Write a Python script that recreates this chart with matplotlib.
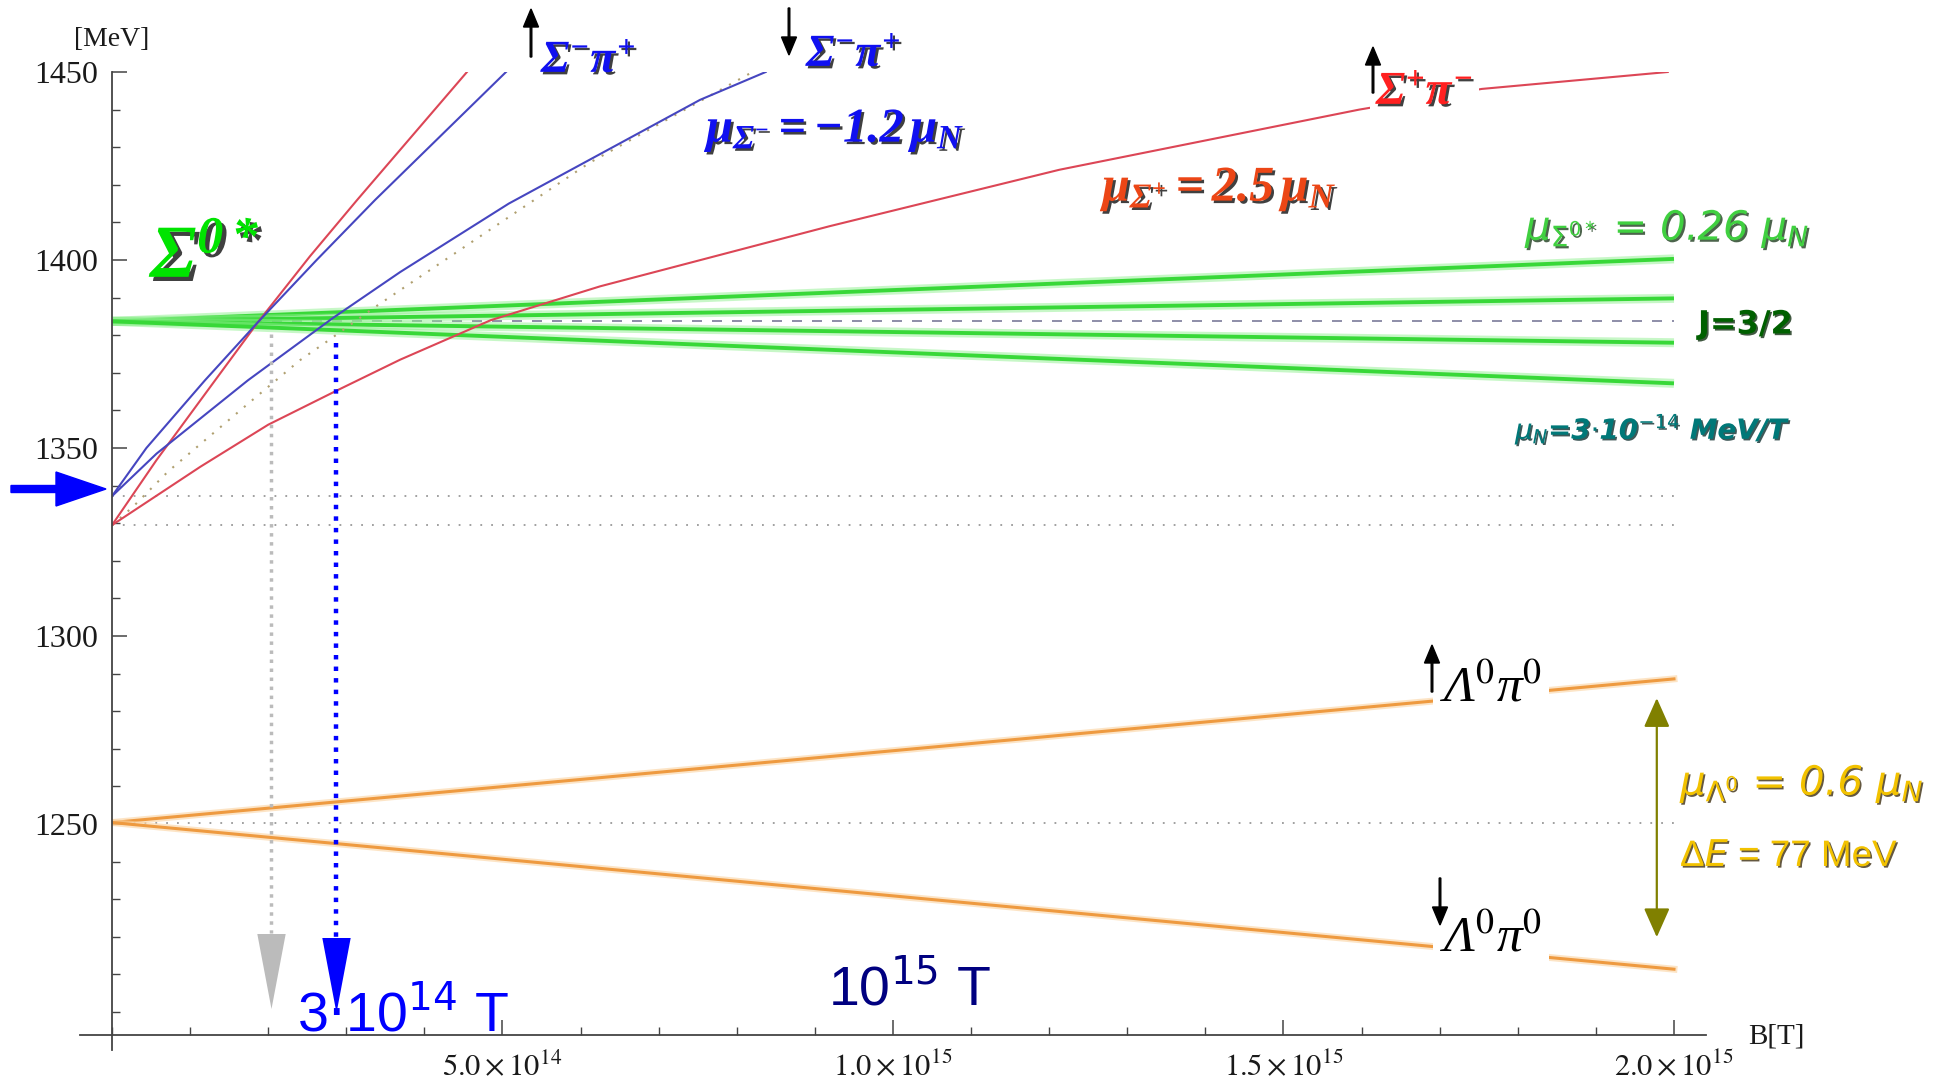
"""Zeeman-like splitting of Sigma* / pi-baryon thresholds in a huge B field"""

import matplotlib
matplotlib.use("Agg")
import matplotlib.pyplot as plt
import matplotlib.patheffects as pe
from matplotlib.patches import FancyArrow
from matplotlib.transforms import IdentityTransform
from matplotlib.ticker import FixedLocator, FixedFormatter, MultipleLocator

W, H = 1937, 1080
BU = 1e15  # B values below are in units of 1e15 T

# threshold curves (B [1e15 T], E [MeV])
red_steep_B = [0, 0.057, 0.132, 0.187, 0.2535, 0.314, 0.4545]
red_steep_E = [1329.5, 1346.8, 1368, 1383.5, 1401, 1416, 1450]
blue_steep_B = [0, 0.044, 0.119, 0.187, 0.262, 0.337, 0.5045]
blue_steep_E = [1337.2, 1350, 1368, 1383.5, 1400, 1416, 1450]
blue_flat_B = [0, 0.057, 0.174, 0.283, 0.369, 0.508, 0.753, 0.837]
blue_flat_E = [1337.2, 1348.5, 1368, 1384.6, 1396.8, 1415, 1442.6, 1450]
red_flat_B = [0, 0.113, 0.2, 0.287, 0.369, 0.485, 0.625, 0.919, 1.213, 1.597, 1.754, 1.992]
red_flat_E = [1329.5, 1345, 1356.2, 1365.2, 1373.5, 1384, 1393, 1409, 1424, 1440, 1445.5, 1450]
dotted_B = [0, 0.027, 0.072, 0.18, 0.241, 0.275, 0.339, 0.611, 0.82]
dotted_E = [1329.5, 1334.4, 1343.8, 1362.8, 1373.4, 1378.3, 1387.8, 1425.8, 1450]

# Sigma0* (J=3/2) sublevels and Lambda0 pi0 levels: start / end values
b_ends = [0, 2.0]
sigma0_E0 = 1383.7
sigma0_end = [1400.3, 1389.8, 1378.0, 1367.2]
lambda_E0 = 1250.4
lambda_end = [1288.6, 1211.4]
thresholds = [1337.2, 1329.5, 1250.4]

# vertical markers at 2e14 T and 3e14 T
mark_B = [0.203, 0.287]
mark_top = [1380.3, 1378.0]
mark_base = [1221.0, 1219.7]
mark_tip = [1200.8, 1200.0]
# olive delta-E arrow
de_B = 1.978
de_E = [1219.9, 1283.5]

y_major = [1250, 1300, 1350, 1400, 1450]
x_major = [0.5, 1.0, 1.5, 2.0]
x_labels = [r"$5.0\times10^{14}$", r"$1.0\times10^{15}$",
            r"$1.5\times10^{15}$", r"$2.0\times10^{15}$"]

plt.rcParams["font.family"] = "Liberation Serif"
plt.rcParams["mathtext.fontset"] = "stix"
plt.rcParams["mathtext.rm"] = "Liberation Serif:bold:italic"
plt.rcParams["mathtext.it"] = "Liberation Serif:bold:italic"
plt.rcParams["mathtext.bf"] = "Liberation Serif:bold:italic"

fig = plt.figure(figsize=(W / 100, H / 100), dpi=100)
ax = fig.add_axes([112 / W, 45 / H, 1594 / W, 963 / H])
ax.set_xlim(0, 2.041 * BU)
ax.set_ylim(1193.9, 1450)

for s in ["top", "right"]:
    ax.spines[s].set_visible(False)
for s in ["left", "bottom"]:
    ax.spines[s].set_color("#444444")
    ax.spines[s].set_linewidth(1.3)
ax.spines["left"].set_bounds(1189.9, 1450)
ax.spines["bottom"].set_bounds(-0.041 * BU, 2.041 * BU)

ax.yaxis.set_major_locator(FixedLocator(y_major))
ax.yaxis.set_minor_locator(MultipleLocator(10))
ax.xaxis.set_major_locator(FixedLocator([v * BU for v in x_major]))
ax.xaxis.set_major_formatter(FixedFormatter(x_labels))
ax.xaxis.set_minor_locator(MultipleLocator(0.1 * BU))
ax.tick_params(which="major", direction="in", length=11, width=1.1,
               color="#444444", labelcolor="#1a1a1a")
ax.tick_params(which="minor", direction="in", length=6, width=1.0, color="#444444")
ax.tick_params(axis="y", pad=10, labelsize=23)
ax.tick_params(axis="x", pad=12, labelsize=22)

# reference levels
for e in thresholds:
    ax.plot([0, 2.0 * BU], [e, e], ls=(0, (1, 5)), color="#999999", lw=1.3)
ax.plot([0, 2.0 * BU], [sigma0_E0, sigma0_E0], ls=(0, (6, 6)), color="#7a7a9a", lw=1.2)

# Sigma0* sublevels
for e in sigma0_end:
    ax.plot([b * BU for b in b_ends], [sigma0_E0, e], color="#90f090", lw=6.5, alpha=0.5,
            solid_capstyle="butt")
    ax.plot([b * BU for b in b_ends], [sigma0_E0, e], color="#38d838", lw=2.8,
            solid_capstyle="butt")

# Lambda pi levels
for e in lambda_end:
    ax.plot([b * BU for b in b_ends], [lambda_E0, e], color="#fbd3a0", lw=5, alpha=0.6)
    ax.plot([b * BU for b in b_ends], [lambda_E0, e], color="#ee9a40", lw=2.2)

# charged thresholds
ax.plot([b * BU for b in dotted_B], dotted_E, ls=(0, (1, 4)), color="#b0a070", lw=1.5)
ax.plot([b * BU for b in red_steep_B], red_steep_E, color="#dc4656", lw=1.5)
ax.plot([b * BU for b in blue_steep_B], blue_steep_E, color="#4646c0", lw=1.5)
ax.plot([b * BU for b in blue_flat_B], blue_flat_E, color="#4646c0", lw=1.5)
ax.plot([b * BU for b in red_flat_B], red_flat_E, color="#dc4656", lw=1.5)

# vertical markers with arrow heads
head = [(-14, 37), (14, 37), (0, -37)]
for b, top, base, tip, c in zip(mark_B, mark_top, mark_base, mark_tip, ["#bbbbbb", "#0000ff"]):
    ax.plot([b * BU, b * BU], [top, base], ls=(0, (1, 1.6)), color=c,
            lw=2.5 if c == "#bbbbbb" else 3.2)
    ax.plot([b * BU], [(base + tip) / 2], marker=head, ms=54, color=c, mew=0, clip_on=False)

ax.annotate("", xy=(de_B * BU, de_E[0]), xytext=(de_B * BU, de_E[1]),
            arrowprops=dict(arrowstyle="<|-|>, head_length=18, head_width=8",
                            mutation_scale=1, color="#808000", lw=1.6,
                            shrinkA=0, shrinkB=0))


def ftext(x, y, s, **kw):
    """text positioned in pixels from the top-left corner"""
    return fig.text(x / W, 1 - y / H, s, **kw)


def farrow(x, y0, y1):
    """small black arrow in pixels (top-left origin), from y0 to y1"""
    fig.add_artist(FancyArrow(x, H - y0, 0, -(y1 - y0), width=1.6, head_width=15,
                              head_length=18, length_includes_head=True, zorder=6,
                              color="black", transform=IdentityTransform()))


def shadow(off=1.8, c="black", a=0.75):
    return [pe.withSimplePatchShadow(offset=(off, -off), shadow_rgbFace=c, alpha=a)]


ftext(112, 39, "[MeV]", ha="center", va="center", fontsize=20, color="#1a1a1a")
ftext(1776, 1037, "B[T]", ha="center", va="center", fontsize=21, color="#1a1a1a")

bi = dict(family="Liberation Serif", weight="bold", style="italic", math_fontfamily="custom")
ftext(150, 277, "Σ$^{0*}$", fontsize=54, color="#00e400", path_effects=shadow(3), **bi)
ftext(541, 72, r"$\Sigma^{-}\pi^{+}$", fontsize=33, color="#1010f0", path_effects=shadow(), **bi)
ftext(806, 66, r"$\Sigma^{-}\pi^{+}$", fontsize=33, color="#1010f0", path_effects=shadow(), **bi)
ftext(706, 142, r"$\mu_{\Sigma^{-}}=-1.2\,\mu_N$", fontsize=35, color="#1010f0",
      path_effects=shadow(), **bi)
ftext(1376, 104, r"$\Sigma^{+}\pi^{-}$", fontsize=34, color="#ff2020",
      path_effects=shadow(), bbox=dict(fc="white", ec="none", pad=4), **bi)
ftext(1102, 201, r"$\mu_{\Sigma^{+}}=2.5\,\mu_N$", fontsize=36, color="#ec4616",
      path_effects=shadow(), **bi)

farrow(531, 57, 9)
farrow(789, 8, 55)
farrow(1373, 93, 47)

si = dict(family="DejaVu Sans", style="italic", math_fontfamily="dejavusans")
ftext(1525, 240, r"$\mu_{\Sigma^{0*}}$ = 0.26 $\mu_N$", fontsize=29, color="#40d040",
      path_effects=shadow(1.5, "#103010"), **si)
ftext(1698, 325, "J=3/2", fontsize=23, color="#006000", weight="bold", family="DejaVu Sans",
      va="center", path_effects=shadow(1.2, "#002000"))
ftext(1515, 429, r"$\mu_N$=3$\cdot$10$^{-14}$ MeV/T", fontsize=20, color="#007878",
      weight="bold", va="center", path_effects=shadow(1.2, "#002020"), **si)

lam = dict(family="Liberation Serif", style="italic", math_fontfamily="stix", fontsize=37,
           color="black", bbox=dict(fc="white", ec="none", pad=5))
ftext(1440, 701, "Λ$^{0}$π$^{0}$", **lam)
ftext(1440, 952, "Λ$^{0}$π$^{0}$", **lam)
farrow(1432, 692, 645)
farrow(1440, 878, 925)

ftext(1680, 795, r"$\mu_{\Lambda^{0}}$ = 0.6 $\mu_N$", fontsize=29, color="#f2c200",
      path_effects=shadow(1.2, "#302000"), **si)
ftext(1680, 866, "Δ$E$ = 77 MeV", fontsize=26.5, color="#f2c200", family="Liberation Sans",
      math_fontfamily="dejavusans", path_effects=shadow(1.2, "#302000"))

ftext(297, 1030, r"3$\cdot$10$^{14}$ T", fontsize=40, color="#0000ff",
      family="Liberation Sans", math_fontfamily="dejavusans")
ftext(828, 1005, r"10$^{15}$ T", fontsize=40, color="#000080",
      family="Liberation Sans", math_fontfamily="dejavusans")

fig.add_artist(FancyArrow(11, H - 489, 95, 0, width=7, head_width=34, head_length=50,
                          length_includes_head=True, color="#0000ff",
                          transform=IdentityTransform()))

fig.savefig("out.png", dpi=100, facecolor="white")
